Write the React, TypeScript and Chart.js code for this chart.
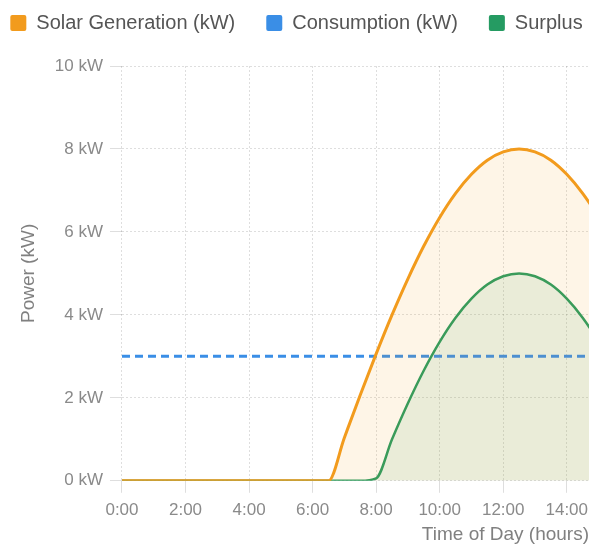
import React, { useEffect, useRef } from "react";
import { Chart, registerables } from "chart.js";

Chart.register(...registerables);

// Hours of the day (half-hour steps)
const hours = [
  0, 0.5, 1, 1.5, 2, 2.5, 3, 3.5, 4, 4.5, 5, 5.5, 6, 6.5, 7, 7.5, 8, 8.5, 9, 9.5,
  10, 10.5, 11, 11.5, 12, 12.5, 13, 13.5, 14, 14.5, 15, 15.5,
];
// Solar generation (kW)
const solarValues = [
  0, 0, 0, 0, 0, 0, 0, 0, 0, 0, 0, 0, 0, 0, 1.04, 2.07, 3.06, 4.0, 4.87, 5.66,
  6.35, 6.93, 7.39, 7.73, 7.93, 8.0, 7.93, 7.73, 7.39, 6.93, 6.35, 5.66,
];
// Household consumption (kW)
const consumptionValues = [
  3, 3, 3, 3, 3, 3, 3, 3, 3, 3, 3, 3, 3, 3, 3, 3, 3, 3, 3, 3,
  3, 3, 3, 3, 3, 3, 3, 3, 3, 3, 3, 3,
];
// Surplus (kW)
const surplusValues = [
  0, 0, 0, 0, 0, 0, 0, 0, 0, 0, 0, 0, 0, 0, 0, 0, 0.06, 1.0, 1.87, 2.66,
  3.35, 3.93, 4.39, 4.73, 4.93, 5.0, 4.93, 4.73, 4.39, 3.93, 3.35, 2.66,
];
const seriesLabels = ["Solar Generation (kW)", "Consumption (kW)", "Surplus"];
const xTitle = "Time of Day (hours)";
const yTitle = "Power (kW)";

const FONT = "'Liberation Sans', Arial, Helvetica, sans-serif";
const LEGEND_EXTRA = 23;

const legendSpacer = {
  id: "legendSpacer",
  beforeLayout(chart: any) {
    const lg = chart.legend;
    if (lg && !lg._patched) {
      const origFit = lg.fit;
      lg.fit = function () {
        const mw = this.maxWidth;
        this.maxWidth = mw + 300;
        origFit.call(this);
        this.maxWidth = mw;
        this.width = mw;
        this.height += LEGEND_EXTRA;
      };
      const origDraw = lg.draw;
      lg.draw = function (...args: any[]) {
        const l = this.left;
        const r = this.right;
        this.left = l - 200;
        this.right = r + 200;
        origDraw.apply(this, args);
        this.left = l;
        this.right = r;
      };
      lg._patched = true;
    }
  },
};

function pts(vals: number[]) {
  return hours.map((h, i) => ({ x: h, y: vals[i] }));
}

export default function App() {
  const ref = useRef<HTMLCanvasElement | null>(null);
  useEffect(() => {
    if (!ref.current) return;
    const gridColor = "rgba(0,0,0,0.13)";
    const chart = new Chart(ref.current, {
      type: "line",
      data: {
        datasets: [
          {
            label: seriesLabels[0],
            data: pts(solarValues),
            borderColor: "#f29b1d",
            backgroundColor: "rgba(243,156,18,0.1)",
            borderWidth: 3,
            pointRadius: 0,
            fill: "origin",
            cubicInterpolationMode: "monotone",
          },
          {
            label: seriesLabels[1],
            data: pts(consumptionValues),
            borderColor: "#3a8ee6",
            backgroundColor: "#3a8ee6",
            borderWidth: 3,
            borderDash: [8, 5],
            pointRadius: 0,
            fill: false,
          },
          {
            label: seriesLabels[2],
            data: pts(surplusValues),
            borderColor: "#259b62",
            backgroundColor: "rgba(39,160,96,0.1)",
            borderWidth: 2.5,
            pointRadius: 0,
            fill: "origin",
            cubicInterpolationMode: "monotone",
          },
        ],
      },
      options: {
        animation: false,
        responsive: true,
        maintainAspectRatio: false,
        layout: { padding: { left: 4, right: 0, top: -18, bottom: 0 } },
        plugins: {
          legend: {
            position: "top",
            labels: {
              boxWidth: 16,
              boxHeight: 16,
              padding: 31,
              color: "#555",
              font: { size: 20, family: FONT },
              useBorderRadius: true,
              borderRadius: 2,
              generateLabels(c: any) {
                const items = (Chart as any).defaults.plugins.legend.labels.generateLabels(c);
                return items.map((it: any) => ({
                  ...it,
                  fillStyle: it.strokeStyle,
                  lineWidth: 0,
                  lineDash: [],
                }));
              },
            },
          },
          tooltip: { enabled: false },
        },
        scales: {
          x: {
            type: "linear",
            min: 0,
            max: 14.7,
            afterFit: (s: any) => {
              s.paddingRight = 0;
            },
            ticks: {
              stepSize: 2,
              includeBounds: false,
              padding: 7,
              color: "#8a8a8a",
              font: { size: 17, family: FONT },
              callback: (v: any) => `${v}:00`,
            },
            grid: { color: gridColor, tickLength: 12 },
            border: { display: false, dash: [2, 2] },
            title: {
              display: true,
              text: xTitle,
              align: "end",
              color: "#808080",
              font: { size: 19, family: FONT },
              padding: { top: -4, bottom: 4 },
            },
          },
          y: {
            min: 0,
            max: 10,
            ticks: {
              stepSize: 2,
              padding: 7,
              color: "#8a8a8a",
              font: { size: 17, family: FONT },
              callback: (v: any) => `${v} kW`,
            },
            grid: { color: gridColor, tickLength: 12 },
            border: { display: false, dash: [2, 2] },
            title: {
              display: true,
              text: yTitle,
              color: "#808080",
              font: { size: 19, family: FONT },
              padding: { top: 13, bottom: 8 },
            },
          },
        },
      },
      plugins: [legendSpacer],
    } as any);
    return () => chart.destroy();
  }, []);
  return (
    <div style={{ position: "fixed", left: 0, top: 0, width: 589, height: 550 }}>
      <canvas ref={ref} />
    </div>
  );
}
